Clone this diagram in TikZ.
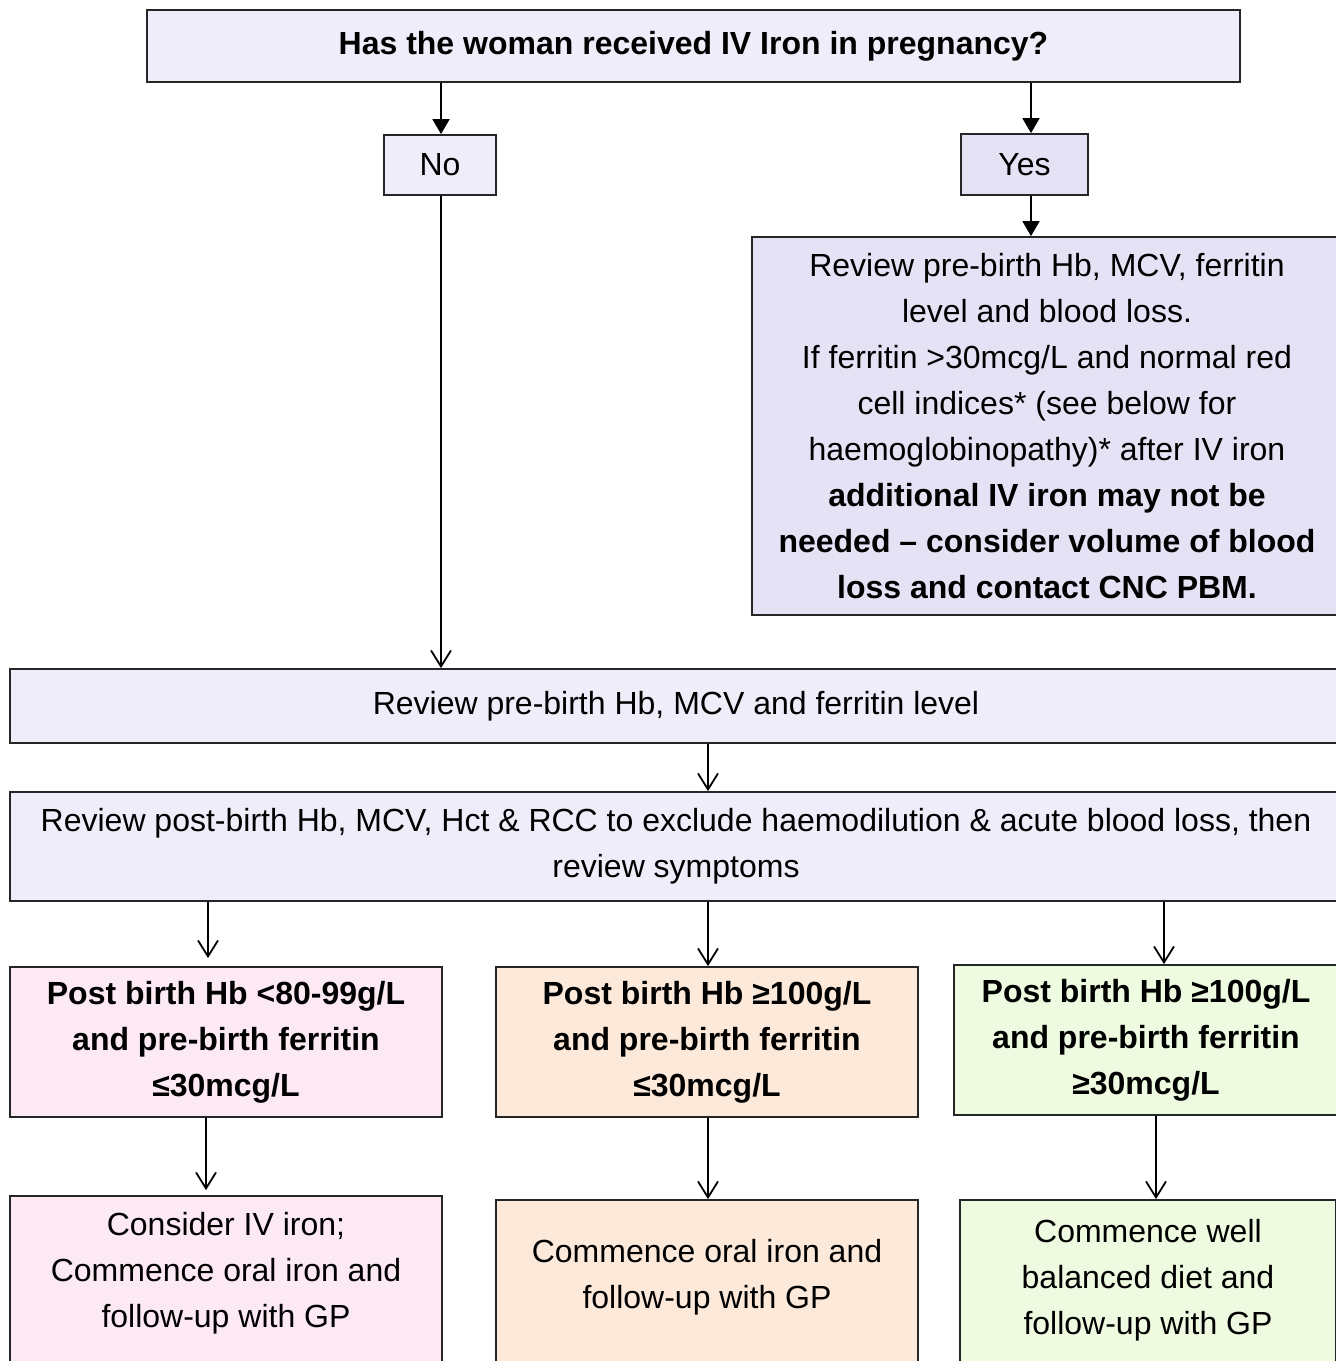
\documentclass[tikz,border=0pt]{standalone}
\usepackage{fontspec}
\setmainfont{Liberation Sans}
\usetikzlibrary{arrows.meta}
\definecolor{lavL}{RGB}{239,237,250}
\definecolor{lavD}{RGB}{229,226,246}
\definecolor{pinkF}{RGB}{253,233,243}
\definecolor{peachF}{RGB}{253,233,218}
\definecolor{greenF}{RGB}{238,251,224}
\tikzset{
  box/.style={draw=black!85, line width=1.8pt, rectangle, inner sep=0pt, align=center, font=\fontsize{32}{46}\selectfont},
  txt/.style={inner sep=0pt, align=center, font=\fontsize{32}{46}\selectfont},
  arrF/.style={line width=1.8pt, -{Triangle[length=15pt,width=17pt]}},
  arrO/.style={line width=1.8pt, -{Straight Barb[length=16pt,width=20pt,line width=1.8pt]}},
}
\begin{document}
\begin{tikzpicture}[x=1pt,y=-1pt]
\clip (0,0) rectangle (1336,1361);
\fill[white] (0,0) rectangle (1336,1361);
% top
\node[box, fill=lavL, minimum width=1093pt, minimum height=72pt] (top) at (693.5,46) {\textbf{Has the woman received IV Iron in pregnancy?}};
\node[box, fill=lavL, minimum width=112pt, minimum height=60pt] (no) at (440,165) {No};
\node[box, fill=lavD, minimum width=127pt, minimum height=61pt] (yes) at (1024.5,164.5) {Yes};
\node[box, fill=lavD, minimum width=590pt, minimum height=378pt] (yrev) at (1047,426) {Review pre-birth Hb, MCV, ferritin\\level and blood loss.\\If ferritin >30mcg/L and normal red\\cell indices* (see below for\\haemoglobinopathy)* after IV iron\\\textbf{additional IV iron may not be}\\\textbf{needed – consider volume of blood}\\\textbf{loss and contact CNC PBM.}};
\node[box, fill=lavL, minimum width=1332pt, minimum height=74pt] (pre) at (676,706) {Review pre-birth Hb, MCV and ferritin level};
\node[box, fill=lavL, minimum width=1332pt, minimum height=109pt] (post) at (676,846.5) {Review post-birth Hb, MCV, Hct \& RCC to exclude haemodilution \& acute blood loss, then\\review symptoms};
\node[box, fill=pinkF, minimum width=432pt, minimum height=150pt] (c1) at (226,1042) {\textbf{Post birth Hb <80-99g/L}\\\textbf{and pre-birth ferritin}\\\textbf{≤30mcg/L}};
\node[box, fill=peachF, minimum width=422pt, minimum height=150pt] (c2) at (707,1042) {\textbf{Post birth Hb ≥100g/L}\\\textbf{and pre-birth ferritin}\\\textbf{≤30mcg/L}};
\node[box, fill=greenF, minimum width=384pt, minimum height=150pt] (c3) at (1146,1040) {\textbf{Post birth Hb ≥100g/L}\\\textbf{and pre-birth ferritin}\\\textbf{≥30mcg/L}};
\node[box, fill=pinkF, minimum width=432pt, minimum height=200pt] (d1) at (226,1296) {};
\node[box, fill=peachF, minimum width=422pt, minimum height=200pt] (d2) at (707,1300) {};
\node[box, fill=greenF, minimum width=376pt, minimum height=200pt] (d3) at (1148,1300) {};
\node[txt] (t1) at (226,1273) {Consider IV iron;\\Commence oral iron and\\follow-up with GP};
\node[txt] (t2) at (707,1277) {Commence oral iron and\\follow-up with GP};
\node[txt] (t3) at (1148,1280) {Commence well\\balanced diet and\\follow-up with GP};
% x positions
\coordinate (xa) at (441,0);
\coordinate (xb) at (1031,0);
\coordinate (xc) at (708,0);
\coordinate (xd) at (208,0);
\coordinate (xe) at (1164,0);
\coordinate (xf) at (206,0);
\coordinate (xg) at (1156,0);
% arrows
\draw[arrF] (top.south -| xa) -- (no.north -| xa);
\draw[arrF] (top.south -| xb) -- (yes.north -| xb);
\draw[arrF] (yes.south -| xb) -- (yrev.north -| xb);
\draw[arrO] (no.south -| xa) -- (pre.north -| xa);
\draw[arrO] (pre.south -| xc) -- (post.north -| xc);
\draw[arrO, shorten >=8pt] (post.south -| xd) -- (c1.north -| xd);
\draw[arrO] (post.south -| xc) -- (c2.north -| xc);
\draw[arrO] (post.south -| xe) -- (c3.north -| xe);
\draw[arrO, shorten >=5pt] (c1.south -| xf) -- (d1.north -| xf);
\draw[arrO] (c2.south -| xc) -- (d2.north -| xc);
\draw[arrO] (c3.south -| xg) -- (d3.north -| xg);
\end{tikzpicture}
\end{document}
